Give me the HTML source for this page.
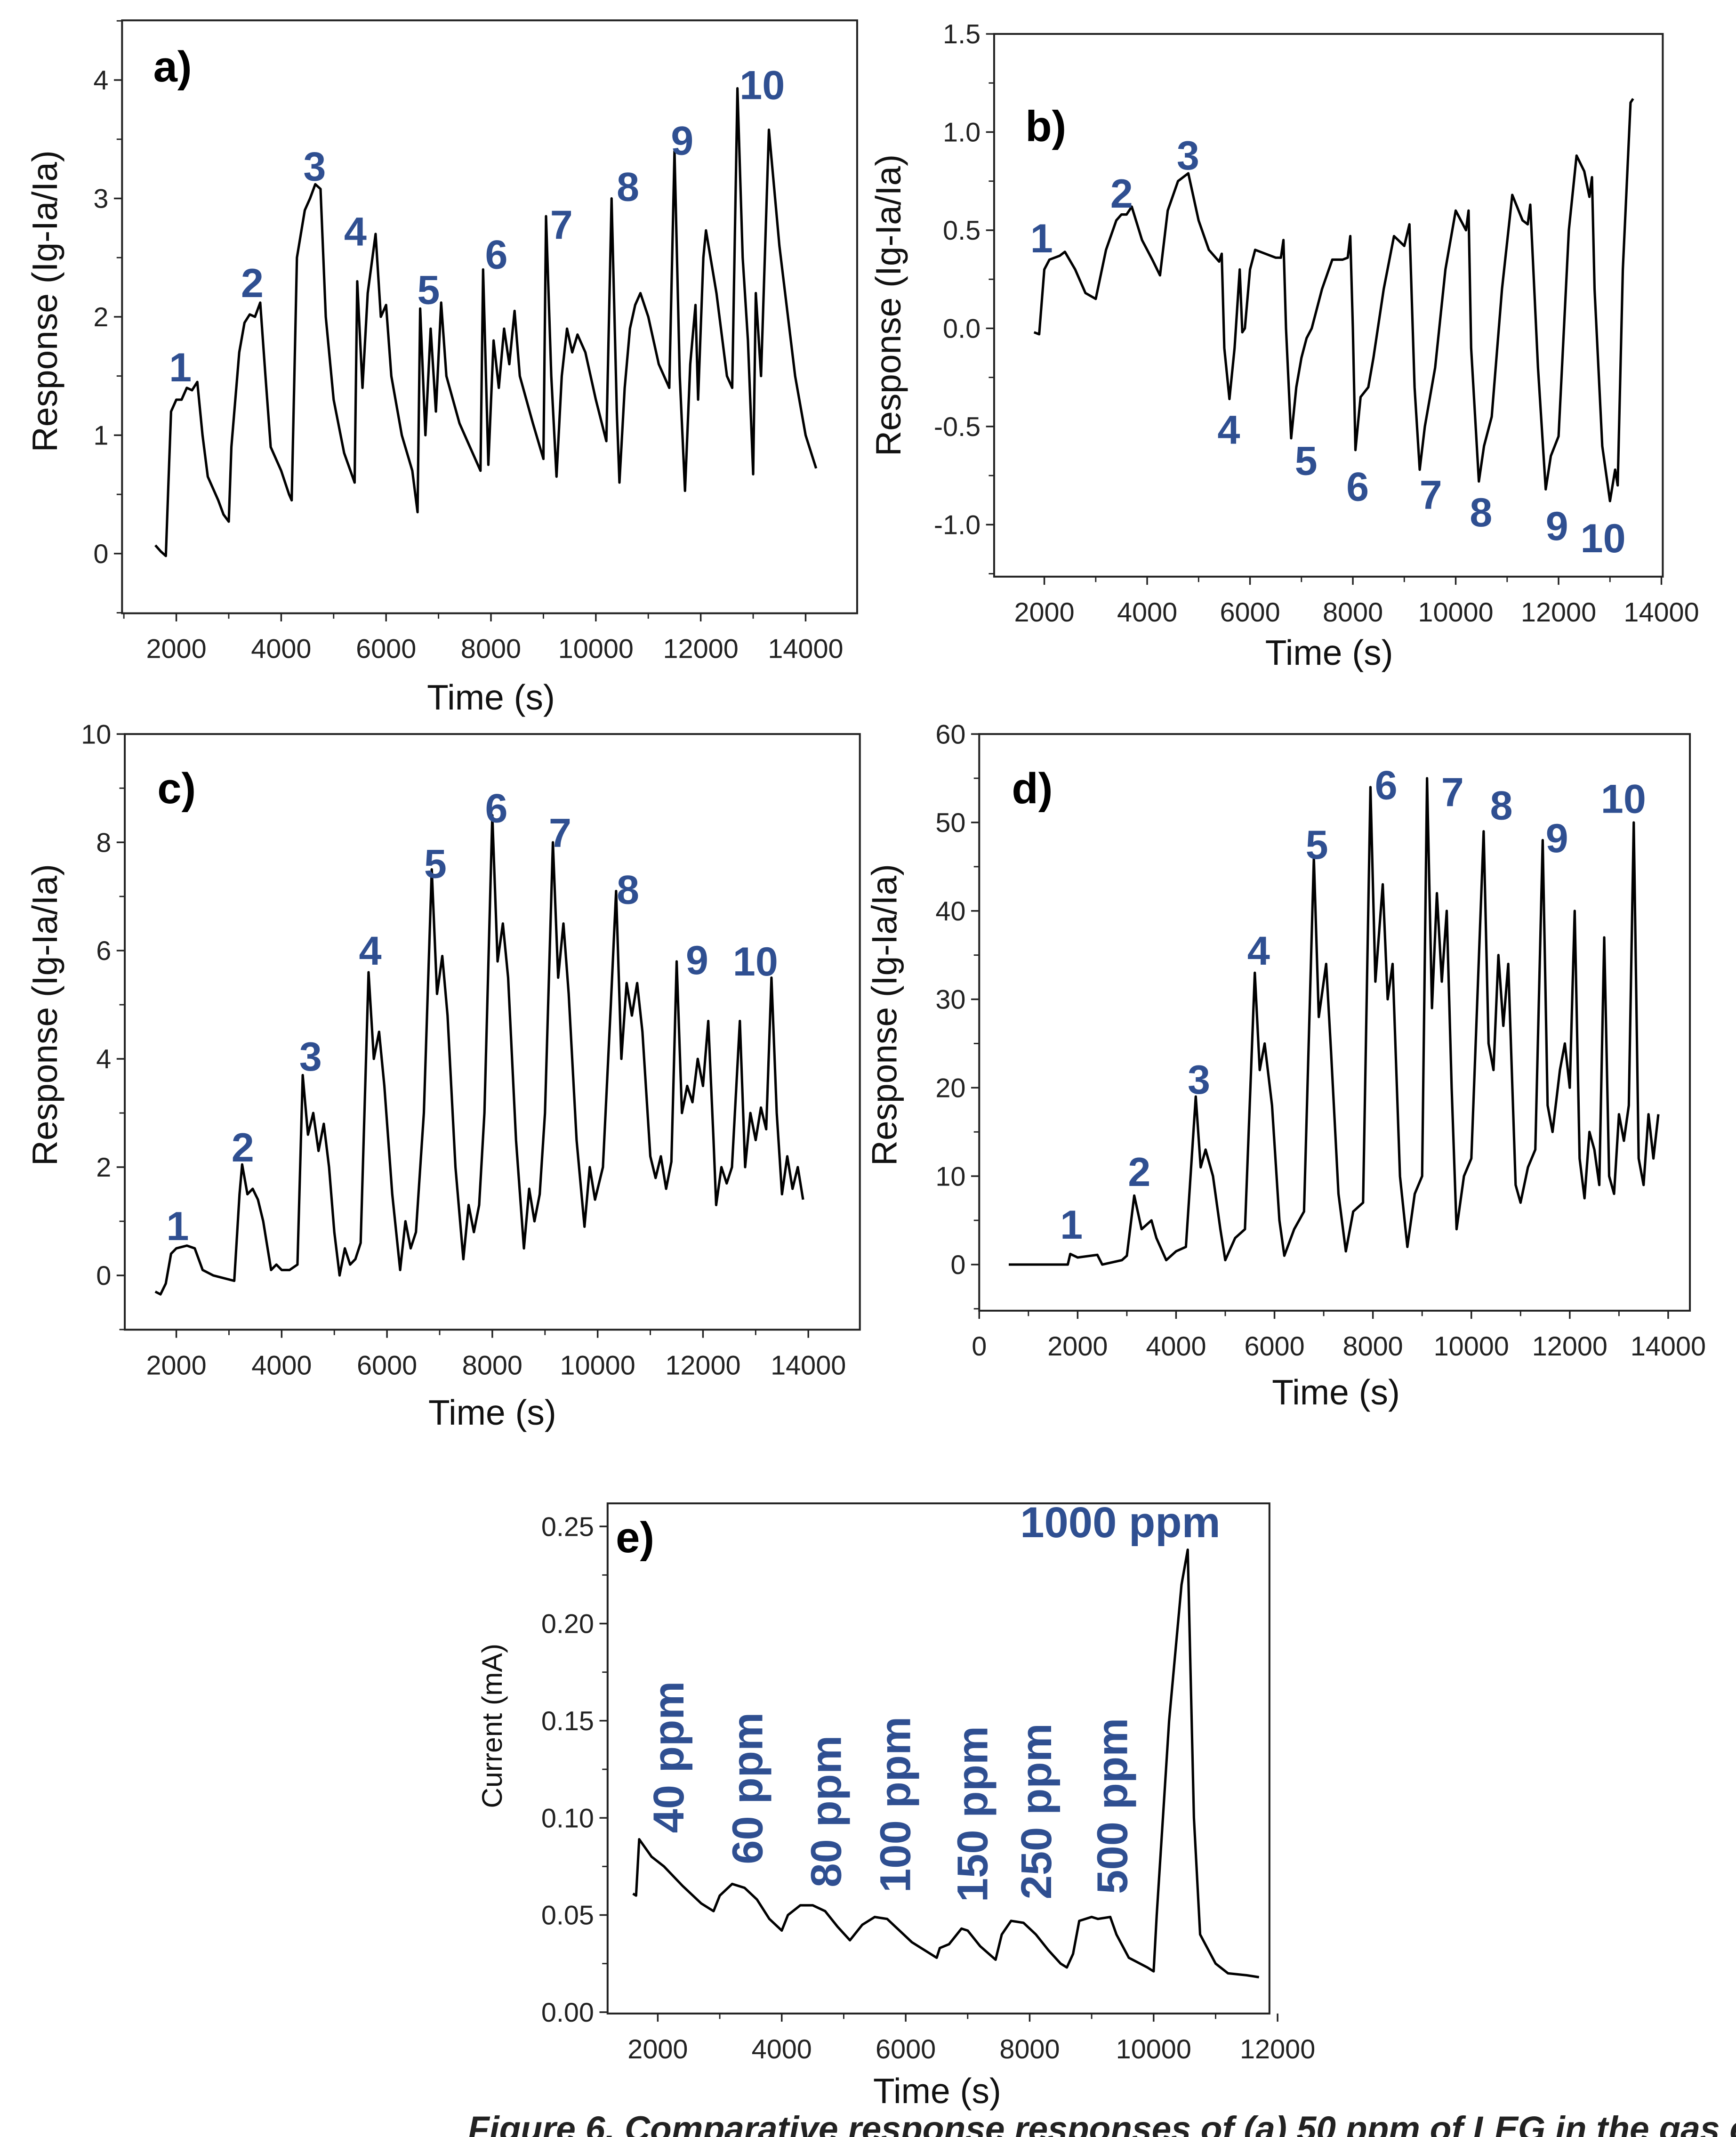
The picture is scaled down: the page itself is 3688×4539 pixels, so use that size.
<!DOCTYPE html>
<html><head><meta charset="utf-8"><style>
html,body{margin:0;padding:0;background:#fff;}
svg{display:block;}
text{font-family:"Liberation Sans",sans-serif;}
</style></head><body>
<svg id="fig" width="3688" height="4539" viewBox="0 0 1280 1575" preserveAspectRatio="none" xmlns="http://www.w3.org/2000/svg">
<text x="345" y="1578" font-family="Liberation Serif" font-style="italic" font-weight="bold" font-size="26" fill="#222">Figure 6. Comparative response responses of (a) 50 ppm of LEG in the gas chamber</text>
</svg>
<script>
// ---- data arrays (time s, value) ----
const seriesA = [[1600,0.07],[1700,0.02],[1800,-0.02],[1850,0.6],[1900,1.2],[2000,1.3],[2100,1.3],[2200,1.4],[2300,1.38],[2400,1.45],[2500,1.0],[2600,0.65],[2800,0.45],[2900,0.33],[3000,0.27],[3050,0.9],[3200,1.7],[3300,1.95],[3400,2.02],[3500,2.0],[3600,2.12],[3700,1.5],[3800,0.9],[4000,0.7],[4150,0.5],[4200,0.45],[4300,2.5],[4450,2.9],[4550,3.0],[4650,3.12],[4750,3.08],[4850,2.0],[5000,1.3],[5200,0.85],[5400,0.6],[5450,2.3],[5550,1.4],[5650,2.2],[5800,2.7],[5900,2.0],[6000,2.1],[6100,1.5],[6300,1.0],[6500,0.7],[6600,0.35],[6650,2.07],[6750,1.0],[6850,1.9],[6950,1.2],[7050,2.12],[7150,1.5],[7400,1.1],[7600,0.9],[7800,0.7],[7850,2.4],[7950,0.75],[8050,1.8],[8150,1.4],[8250,1.9],[8350,1.6],[8450,2.05],[8550,1.5],[8800,1.1],[9000,0.8],[9050,2.85],[9150,1.5],[9250,0.65],[9350,1.5],[9450,1.9],[9550,1.7],[9650,1.85],[9800,1.7],[10000,1.3],[10200,0.95],[10300,3.0],[10400,1.2],[10450,0.6],[10550,1.4],[10650,1.9],[10750,2.1],[10850,2.2],[11000,2.0],[11200,1.6],[11400,1.4],[11500,3.4],[11600,1.5],[11700,0.53],[11800,1.6],[11900,2.1],[11950,1.3],[12050,2.5],[12100,2.73],[12300,2.2],[12500,1.5],[12600,1.4],[12700,3.93],[12800,2.5],[12900,1.8],[13000,0.67],[13050,2.2],[13150,1.5],[13300,3.58],[13500,2.6],[13800,1.5],[14000,1.0],[14200,0.72]];
const seriesB = [[1800,-0.02],[1900,-0.03],[2000,0.3],[2100,0.35],[2300,0.37],[2400,0.39],[2600,0.3],[2800,0.18],[3000,0.15],[3200,0.4],[3400,0.55],[3500,0.58],[3600,0.58],[3700,0.62],[3900,0.45],[4100,0.35],[4250,0.27],[4400,0.6],[4600,0.75],[4800,0.79],[5000,0.55],[5200,0.4],[5400,0.34],[5450,0.38],[5500,-0.1],[5600,-0.36],[5700,-0.1],[5800,0.3],[5850,-0.02],[5900,0.0],[6000,0.3],[6100,0.4],[6300,0.38],[6500,0.36],[6600,0.36],[6650,0.45],[6700,0.0],[6800,-0.56],[6900,-0.3],[7000,-0.15],[7100,-0.05],[7200,0.0],[7400,0.2],[7600,0.35],[7800,0.35],[7900,0.36],[7950,0.47],[8000,0.0],[8050,-0.62],[8150,-0.35],[8300,-0.3],[8400,-0.15],[8600,0.2],[8800,0.47],[9000,0.42],[9100,0.53],[9200,-0.3],[9300,-0.72],[9400,-0.5],[9500,-0.35],[9600,-0.2],[9800,0.3],[10000,0.6],[10200,0.5],[10250,0.6],[10300,-0.1],[10450,-0.78],[10550,-0.6],[10700,-0.45],[10900,0.2],[11100,0.68],[11300,0.55],[11400,0.53],[11450,0.63],[11600,-0.2],[11750,-0.82],[11850,-0.65],[12000,-0.55],[12200,0.5],[12350,0.88],[12500,0.8],[12600,0.67],[12650,0.77],[12700,0.2],[12850,-0.6],[13000,-0.88],[13100,-0.72],[13150,-0.8],[13250,0.3],[13400,1.15],[13450,1.17]];
const seriesC = [[1600,-0.3],[1700,-0.35],[1800,-0.15],[1900,0.4],[2000,0.5],[2200,0.55],[2350,0.5],[2500,0.1],[2700,0.0],[2900,-0.05],[3100,-0.1],[3200,1.5],[3250,2.05],[3350,1.5],[3450,1.6],[3550,1.4],[3650,1.0],[3800,0.1],[3900,0.2],[4000,0.1],[4150,0.1],[4300,0.2],[4400,3.7],[4500,2.6],[4600,3.0],[4700,2.3],[4800,2.8],[4900,2.0],[5000,0.8],[5100,0.0],[5200,0.5],[5300,0.2],[5400,0.3],[5500,0.6],[5650,5.6],[5750,4.0],[5850,4.5],[5950,3.5],[6100,1.5],[6250,0.1],[6350,1.0],[6450,0.5],[6550,0.8],[6700,3.0],[6850,7.5],[6950,5.2],[7050,5.9],[7150,4.8],[7300,2.0],[7450,0.3],[7550,1.3],[7650,0.8],[7750,1.3],[7850,3.0],[8000,8.5],[8100,5.8],[8200,6.5],[8300,5.5],[8450,2.5],[8600,0.5],[8700,1.6],[8800,1.0],[8900,1.5],[9000,3.0],[9150,8.0],[9250,5.5],[9350,6.5],[9450,5.2],[9600,2.5],[9750,0.9],[9850,2.0],[9950,1.4],[10100,2.0],[10250,5.0],[10350,7.1],[10450,4.0],[10550,5.4],[10650,4.8],[10750,5.4],[10850,4.5],[11000,2.2],[11100,1.8],[11200,2.2],[11300,1.6],[11400,2.1],[11500,5.8],[11600,3.0],[11700,3.5],[11800,3.2],[11900,4.0],[12000,3.5],[12100,4.7],[12200,2.5],[12250,1.3],[12350,2.0],[12450,1.7],[12550,2.0],[12700,4.7],[12800,2.0],[12900,3.0],[13000,2.5],[13100,3.1],[13200,2.7],[13300,5.5],[13400,3.0],[13500,1.5],[13600,2.2],[13700,1.6],[13800,2.0],[13900,1.4]];
const seriesD = [[600,0],[1000,0],[1500,0],[1800,0],[1850,1.2],[2000,0.8],[2400,1.1],[2500,0],[2900,0.5],[3000,1],[3150,7.8],[3300,4],[3500,5],[3600,3],[3800,0.5],[4000,1.5],[4200,2],[4400,19],[4500,11],[4600,13],[4750,10],[4900,4],[5000,0.5],[5200,3],[5400,4],[5600,33],[5700,22],[5800,25],[5950,18],[6100,5],[6200,1],[6400,4],[6600,6],[6800,46],[6900,28],[7050,34],[7150,24],[7300,8],[7450,1.5],[7600,6],[7800,7],[7950,54],[8050,32],[8200,43],[8300,30],[8400,34],[8550,10],[8700,2],[8850,8],[9000,10],[9100,55],[9200,29],[9300,42],[9400,32],[9500,40],[9600,20],[9700,4],[9850,10],[10000,12],[10250,49],[10350,25],[10450,22],[10550,35],[10650,27],[10750,34],[10900,9],[11000,7],[11150,11],[11300,13],[11450,48],[11550,18],[11650,15],[11800,22],[11900,25],[12000,20],[12100,40],[12200,12],[12300,7.5],[12400,15],[12500,13],[12600,9],[12700,37],[12800,10],[12900,8],[13000,17],[13100,14],[13200,18],[13300,50],[13400,12],[13500,9],[13600,17],[13700,12],[13800,17]];
const seriesE = [[1600,0.061],[1650,0.06],[1700,0.089],[1900,0.08],[2100,0.075],[2400,0.065],[2700,0.056],[2900,0.052],[3000,0.06],[3200,0.066],[3400,0.064],[3600,0.058],[3800,0.048],[4000,0.042],[4100,0.05],[4300,0.055],[4500,0.055],[4700,0.052],[4900,0.044],[5100,0.037],[5300,0.045],[5500,0.049],[5700,0.048],[5900,0.042],[6100,0.036],[6400,0.03],[6500,0.028],[6550,0.033],[6700,0.035],[6900,0.043],[7000,0.042],[7200,0.034],[7450,0.027],[7550,0.04],[7700,0.047],[7900,0.046],[8100,0.04],[8300,0.032],[8500,0.025],[8600,0.023],[8700,0.03],[8800,0.047],[9000,0.049],[9100,0.048],[9300,0.049],[9400,0.04],[9600,0.028],[9900,0.023],[10000,0.021],[10050,0.05],[10250,0.15],[10450,0.22],[10550,0.238],[10650,0.1],[10750,0.04],[11000,0.025],[11200,0.02],[11500,0.019],[11700,0.018]];
const xTicksA = [2000,4000,6000,8000,10000,12000,14000];
const xTicksD = [0,2000,4000,6000,8000,10000,12000,14000];
const xTicksE = [2000,4000,6000,8000,10000,12000];
const yTicksA = [0,1,2,3,4];
const yTicksB = [-1.0,-0.5,0.0,0.5,1.0,1.5];
const yTicksC = [0,2,4,6,8,10];
const yTicksD = [0,10,20,30,40,50,60];
const yTicksE = [0.00,0.05,0.10,0.15,0.20,0.25];
const peakNames = ["1","2","3","4","5","6","7","8","9","10"];
const ppmNames = ["40 ppm","60 ppm","80 ppm","100 ppm","150 ppm","250 ppm","500 ppm"];

const NS="http://www.w3.org/2000/svg";
const svg=document.getElementById('fig');
function mk(tag,attrs,parent){const e=document.createElementNS(NS,tag);for(const k in attrs)e.setAttribute(k,attrs[k]);(parent||svg).appendChild(e);return e;}

function panel(cfg){
  const g=mk('g',{});
  
  
  const sx=v=>cfg.x0+(v-cfg.xa)*(cfg.x1-cfg.x0)/(cfg.xb-cfg.xa);
  const sy=v=>cfg.y0+(v-cfg.ya)*(cfg.y1-cfg.y0)/(cfg.yb-cfg.ya);
  const f=cfg.frame;
  const fr=mk('rect',{x:f[0],y:f[1],width:f[2]-f[0],height:f[3]-f[1],fill:'none',stroke:'#222','stroke-width':1.4},g);
  
  
  // x ticks
  const xt=cfg.xticks, stepX=xt[1]-xt[0];
  for(let i=0;i<xt.length;i++){
    const X=sx(xt[i]);
    mk('line',{x1:X,y1:f[3],x2:X,y2:f[3]+6,stroke:'#222','stroke-width':1.2},g);
    const mX=sx(xt[i]+stepX/2); if(mX<f[2]) mk('line',{x1:mX,y1:f[3],x2:mX,y2:f[3]+4,stroke:'#222','stroke-width':1},g);
    const mX2=sx(xt[i]-stepX/2); if(i==0&&mX2>f[0]) mk('line',{x1:mX2,y1:f[3],x2:mX2,y2:f[3]+4,stroke:'#222','stroke-width':1},g);
    const t=mk('text',{x:X,y:f[3]+33,'font-size':20,'text-anchor':'middle',fill:'#222'},g);
    t.textContent=xt[i];
    
    
  }
  const yt=cfg.yticks, stepY=yt[1]-yt[0];
  for(let i=0;i<yt.length;i++){
    const Y=sy(yt[i]);
    mk('line',{x1:f[0]-6,y1:Y,x2:f[0],y2:Y,stroke:'#222','stroke-width':1.2},g);
    const mY=sy(yt[i]+stepY/2); if(mY>f[1]) mk('line',{x1:f[0]-4,y1:mY,x2:f[0],y2:mY,stroke:'#222','stroke-width':1},g);
    const mY2=sy(yt[i]-stepY/2); if(i==0&&mY2<f[3]) mk('line',{x1:f[0]-4,y1:mY2,x2:f[0],y2:mY2,stroke:'#222','stroke-width':1},g);
    const t=mk('text',{x:f[0]-10,y:Y+7,'font-size':20,'text-anchor':'end',fill:'#222'},g);
    t.textContent=cfg.yfmt?cfg.yfmt(yt[i]):yt[i];
    
    
  }
  // series
  const d=cfg.data.map((p,i)=>(i?'L':'M')+sx(p[0]).toFixed(2)+','+sy(p[1]).toFixed(2)).join('');
  const pl=mk('path',{d:d,fill:'none',stroke:'#000','stroke-width':1.8,'stroke-linejoin':'round'},g);
  
  
  // titles
  const xt2=mk('text',{x:cfg.xtitle[0],y:cfg.xtitle[1],'font-size':26,'text-anchor':'middle',fill:'#111'},g);
  xt2.textContent='Time (s)';
  
  
  const yt2=mk('text',{x:0,y:0,'font-size':cfg.ytsize||26,'text-anchor':'middle',fill:'#111',transform:`translate(${cfg.ytitle[0]},${cfg.ytitle[1]}) rotate(-90)`},g);
  yt2.textContent=cfg.ytext||'Response (Ig-Ia/Ia)';
  
  
  const pn=mk('text',{x:cfg.plabel[0],y:cfg.plabel[1],'font-size':32,'font-weight':'bold',fill:'#000'},g);
  pn.textContent=cfg.letter;
  
  
  if(cfg.peaks){
    cfg.peaks.forEach((p,i)=>{
      const t=mk('text',{x:p[0],y:p[1]+11,'font-size':30,'font-weight':'bold','text-anchor':'middle',fill:'#2f4f91'},g);
      t.textContent=peakNames[i];
      
      
    });
  }
  return g;
}

panel({name:'panel-a',letter:'a)',data:seriesA,xa:2000,xb:14000,x0:130,x1:594,ya:0,yb:4,y0:408,y1:59,frame:[90,15,632,452],xticks:xTicksA,yticks:yTicksA,xtitle:[362,523],ytitle:[42,222],plabel:[113,60],
  peaks:[[133,270],[186,208],[232,122],[262,170],[316,213],[366,187],[414,165],[463,137],[503,103],[562,62]]});
panel({name:'panel-b',letter:'b)',data:seriesB,xa:2000,xb:14000,x0:770,x1:1225,ya:0,yb:1.5,y0:242,y1:25,frame:[733,25,1226,425],xticks:xTicksA,yticks:yTicksB,yfmt:v=>v.toFixed(1),xtitle:[980,490],ytitle:[664,225],plabel:[756,104],
  peaks:[[768,175],[827,142],[876,114],[906,316],[963,339],[1001,358],[1055,364],[1092,377],[1148,387],[1182,396]]});
panel({name:'panel-c',letter:'c)',data:seriesC,xa:2000,xb:14000,x0:130,x1:596,ya:0,yb:10,y0:940,y1:541,frame:[92,541,634,980],xticks:xTicksA,yticks:yTicksC,xtitle:[363,1050],ytitle:[42,748],plabel:[116,592],
  peaks:[[131,903],[179,845],[229,778],[273,700],[321,636],[366,595],[413,613],[463,655],[514,707],[557,708]]});
panel({name:'panel-d',letter:'d)',data:seriesD,xa:0,xb:14000,x0:722,x1:1230,ya:0,yb:60,y0:932,y1:541,frame:[722,541,1246,966],xticks:xTicksD,yticks:yTicksD,xtitle:[985,1035],ytitle:[661,748],plabel:[746,592],
  peaks:[[790,902],[840,863],[884,795],[928,700],[971,622],[1022,578],[1071,583],[1107,593],[1148,617],[1197,588]]});
const ge=panel({name:'panel-e',letter:'e)',data:seriesE,xa:2000,xb:12000,x0:485,x1:942,ya:0,yb:0.25,y0:1483,y1:1125,frame:[448,1108,936,1484],xticks:xTicksE,yticks:yTicksE,yfmt:v=>v.toFixed(2),xtitle:[691,1550],ytitle:[370,1272],ytsize:21,ytext:'Current (mA)',plabel:[454,1144]});
const big=mk('text',{x:826,y:1133,'font-size':32,'font-weight':'bold','text-anchor':'middle',fill:'#2f4f91'},ge);
big.textContent='1000 ppm';


const ppmPos=[[493,1295],[551,1318],[609,1335],[660,1330],[717,1337],[764,1335],[820,1331]];
ppmNames.forEach((s,i)=>{
  const t=mk('text',{x:0,y:0,'font-size':32,'font-weight':'bold','text-anchor':'middle',fill:'#2f4f91',transform:`translate(${ppmPos[i][0]+11},${ppmPos[i][1]}) rotate(-90)`},ge);
  t.textContent=s;
  
  
});
</script>
</body></html>
